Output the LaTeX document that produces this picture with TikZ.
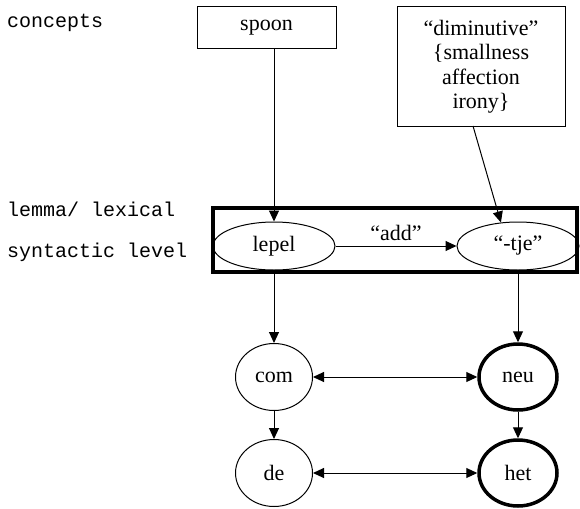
\documentclass[tikz,border=0pt]{standalone}
\usepackage{fontspec}
\setmainfont{Liberation Serif}
\setmonofont{Liberation Mono}
\usetikzlibrary{arrows.meta,shapes.geometric,calc}
\begin{document}
\begin{tikzpicture}[x=1pt,y=-1pt,
  serif/.style={font=\fontsize{22}{24.5}\selectfont},
  levellabel/.style={font=\ttfamily\fontsize{20}{24}\selectfont, anchor=west, inner sep=0pt},
  conceptbox/.style={draw, line width=1pt, serif, align=center, inner sep=0pt},
  thinell/.style={draw, ellipse, line width=1pt, serif, inner sep=0pt},
  thickell/.style={draw, ellipse, line width=3.5pt, serif, inner sep=0pt},
  conn/.style={line width=1pt, -{Triangle[length=11pt,width=10pt]}},
  biconn/.style={line width=1pt, {Triangle[length=11pt,width=10pt]}-{Triangle[length=11pt,width=10pt]}},
  frame/.style={draw, line width=4.5pt}
]
\useasboundingbox (0,0) rectangle (580,508);
\fill[white] (0,0) rectangle (580,508);

% level labels
\node[levellabel] (lconcepts) at (7,23) {concepts};
\node[levellabel] (llemma) at (7,209) {lemma/ lexical};
\node[levellabel] (lsyn) at (7,252) {syntactic level};

% concept boxes
\node[conceptbox, minimum width=139, minimum height=42] (spoon) at (266.5,28) {spoon};
\node[conceptbox, minimum width=168, minimum height=119] (dim) at (481,66.5) {“diminutive”\\\{smallness\\affection\\irony\}};

% lemma level
\node[thinell, minimum width=122, minimum height=48] (lepel) at (274,246) {lepel};
\node[thinell, minimum width=122, minimum height=48] (tje) at (518,246) {“-tje”};
\node[frame, minimum width=364, minimum height=64, inner sep=0pt] (lemmaframe) at (395,240) {};

% gender / determiner level
\node[thinell, minimum width=77, minimum height=67] (com) at (274,377) {com};
\node[thickell, minimum width=78, minimum height=66] (neu) at (518,377) {neu};
\node[thinell, minimum width=77, minimum height=67] (de) at (274,473) {de};
\node[thickell, minimum width=78, minimum height=66] (het) at (518,473) {het};

% connectors
\coordinate (dimfoot) at (473,126);
\draw[conn] (lepel.north |- spoon.south) -- (lepel.north);
\draw[conn] (dimfoot) -- (tje.126);
\draw[conn] (lepel.east) -- node[above, serif, yshift=1pt] (addlabel) {“add”} (tje.west);
\draw[conn] (lepel.south) -- (com.north);
\draw[conn] (tje.south) -- (neu.north);
\draw[biconn] (com.east) -- (neu.west);
\draw[conn] (com.south) -- (de.north);
\draw[conn] (neu.south) -- (het.north);
\draw[biconn] (de.east) -- (het.west);
\end{tikzpicture}
\end{document}
